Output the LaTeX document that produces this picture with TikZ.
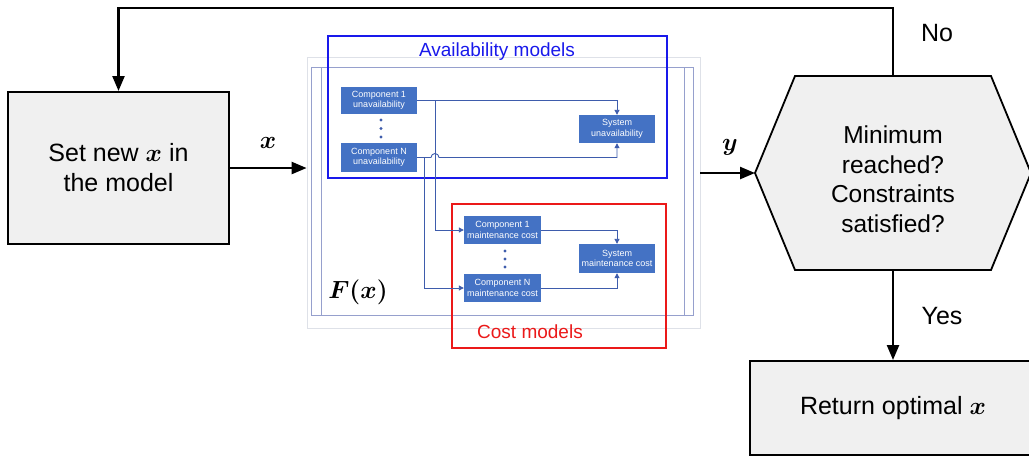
\documentclass[tikz,border=0pt]{standalone}
\usepackage{fontspec}
\setmainfont{Liberation Sans}
\usepackage{bm}
\usetikzlibrary{arrows.meta}

\definecolor{boxgray}{RGB}{240,240,240}
\definecolor{compblue}{RGB}{68,114,196}
\definecolor{linkblue}{RGB}{62,92,172}
\definecolor{framecol}{RGB}{150,160,205}
\definecolor{framepale}{RGB}{222,225,232}
\definecolor{availblue}{RGB}{25,25,235}
\definecolor{costred}{RGB}{235,25,25}

\tikzset{
  bigbox/.style={draw=black, line width=2pt, fill=boxgray, inner sep=0pt,
    align=center, font=\fontsize{25}{30}\selectfont},
  flow/.style={line width=2.4pt, -{Triangle[length=15pt,width=12pt]}},
  biglabel/.style={inner sep=0pt, font=\fontsize{25}{30}\selectfont},
  compbox/.style={fill=compblue, text=white, inner sep=0pt, align=center,
    font=\fontsize{9}{10.5}\selectfont},
  link/.style={draw=linkblue, line width=0.9pt, -{Triangle[length=5pt,width=5pt]}},
  groupbox/.style={line width=1.8pt},
  grouplabel/.style={inner sep=0pt, font=\fontsize{19}{22}\selectfont},
  dotmark/.style={fill=linkblue}
}

\begin{document}
\begin{tikzpicture}[x=1pt, y=-1pt]
\useasboundingbox (0,0) rectangle (1029,456);

% ---------- left box ----------
\node[bigbox, minimum width=221pt, minimum height=152pt] (setbox) at (118.5,168)
  {Set new $\bm{x}$ in\\the model};

% ---------- model F(x) panel ----------
\node[draw=framepale, fill=white, line width=0.8pt, inner sep=0pt,
      minimum width=393pt, minimum height=271pt] (frame) at (503.5,192.5) {};
\draw[framecol, line width=0.9pt] (311,67) rectangle (693,315);
\draw[framecol, line width=0.7pt] (321,67) -- (321,315);
\draw[framecol, line width=0.7pt] (684,67) -- (684,315);

% availability group
\draw[groupbox, availblue] (328,36) rectangle (667,178);
\node[grouplabel, text=availblue] (lblavail) at (497,52) {Availability models};

% cost group
\draw[groupbox, costred] (452,204) rectangle (666,348);
\node[grouplabel, text=costred] (lblcost) at (530,332) {Cost models};

% component blocks
\node[compbox, minimum width=76pt, minimum height=27pt] (cu1) at (379,100.5)
  {Component 1\\unavailability};
\node[compbox, minimum width=76pt, minimum height=29pt] (cuN) at (379,157.5)
  {Component N\\unavailability};
\node[compbox, minimum width=76pt, minimum height=28pt] (su) at (617,129)
  {System\\unavailability};
\node[compbox, minimum width=77pt, minimum height=28pt] (cm1) at (502.5,230)
  {Component 1\\maintenance cost};
\node[compbox, minimum width=77pt, minimum height=28pt] (cmN) at (502.5,288)
  {Component N\\maintenance cost};
\node[compbox, minimum width=76pt, minimum height=29pt] (sm) at (617,258.5)
  {System\\maintenance cost};

% vertical ellipses
\foreach \yy in {120,128.5,137} \fill[dotmark] (381,\yy) circle (1.6pt);
\foreach \yy in {251,259,267} \fill[dotmark] (505,\yy) circle (1.6pt);

% internal links (the lower one hops over the branch line)
\coordinate (b1) at (435,100.5);
\coordinate (b2) at (424,157.5);
\draw[link] (cu1.east) -| (su.north);
\draw[link] (cuN.east) -- (431,157.5)
  arc[start angle=180, end angle=0, radius=4pt] -| (su.south);
\draw[link] (b1) |- (cm1.west);
\draw[link] (b2) |- (cmN.west);
\draw[link] (cm1.east) -| (sm.north);
\draw[link] (cmN.east) -| (sm.south);

\node[inner sep=0pt, font=\fontsize{31}{33}\selectfont] (lblF) at (358,292) {$\bm{F(x)}$};

% ---------- decision hexagon ----------
\coordinate (decleft) at (755,173);
\coordinate (dectop) at (893,76);
\coordinate (decbot) at (893,270);
\filldraw[fill=boxgray, draw=black, line width=1.8pt]
  (decleft) -- (795,76) -- (991,76) -- (1031,173) -- (991,270) -- (795,270) -- cycle;
\node[biglabel, align=center, font=\fontsize{24.5}{29.5}\selectfont] (dec) at (893,179)
  {Minimum\\reached?\\Constraints\\satisfied?};

% ---------- result box ----------
\node[bigbox, minimum width=286pt, minimum height=94pt] (ret) at (893,408)
  {Return optimal $\bm{x}$};

% ---------- connectors ----------
\draw[flow] (setbox.east) -- (setbox.east -| frame.west);
\node[biglabel, font=\fontsize{28}{30}\selectfont] (lblx) at (268,143) {$\bm{x}$};

\draw[flow] (frame.east |- decleft) -- (decleft);
\node[biglabel, font=\fontsize{28}{30}\selectfont] (lbly) at (730,147) {$\bm{y}$};

\draw[flow] (dectop) -- ++(0,-68) -| (setbox.north);
\node[biglabel] (lblno) at (937,33) {No};

\draw[flow] (decbot) -- (ret.north);
\node[biglabel] (lblyes) at (942,316) {Yes};
\end{tikzpicture}
\end{document}
